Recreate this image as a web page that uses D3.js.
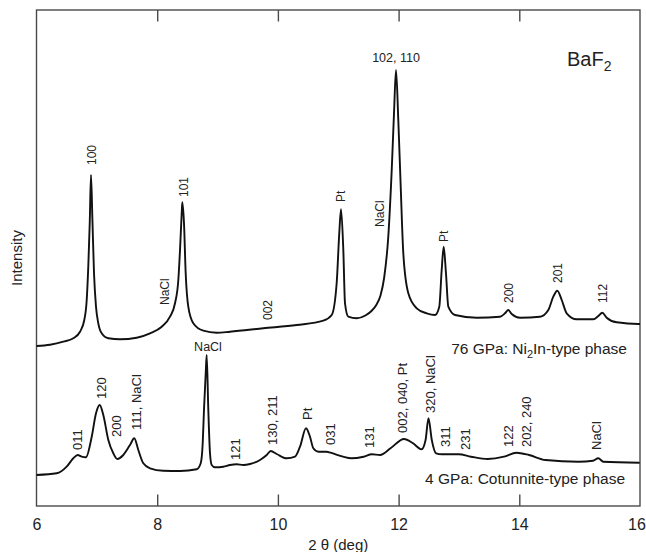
<!DOCTYPE html>
<html>
<head>
<meta charset="utf-8">
<script src="https://cdn.jsdelivr.net/npm/d3@7"></script>
<style>
  html, body { margin: 0; padding: 0; background: #fff; }
  svg { display: block; font-family: "Liberation Sans", Arial, Helvetica, sans-serif; }
</style>
</head>
<body>
<svg id="chart" width="646" height="552"></svg>
<script>
// ---- data (2θ in degrees, intensity in arbitrary units, offset-stacked) ----
const xTicks = [6, 8, 10, 12, 14, 16];

// 76 GPa: Ni2In-type phase
const trace76 = [
  [6.00,160],[6.224,161.3],[6.444,164.3],[6.610,167.7],[6.721,174.3],[6.792,186],[6.832,206],
  [6.858,239.3],[6.882,282.7],[6.903,331],[6.925,289.3],[6.953,232.7],[6.986,199.3],[7.024,182.7],
  [7.080,172.7],[7.190,167.7],[7.384,166.7],[7.660,168.3],[7.881,172.7],[8.075,179.3],[8.212,189.3],
  [8.295,202.7],[8.350,226],[8.378,256],[8.406,292.7],[8.416,303.7],[8.444,282.7],[8.472,232.7],
  [8.515,199.3],[8.598,182.7],[8.764,175.3],[8.986,173.3],[9.206,174.3],[9.758,177.7],[10.312,181],
  [10.752,185.3],[10.892,191],[10.974,223],[11.017,273],[11.046,296.7],[11.084,256],[11.112,202.7],
  [11.167,189.3],[11.306,187.7],[11.45,190.5],[11.55,195],[11.63,201],[11.70,210.5],[11.76,228],
  [11.829,269.3],[11.886,336],[11.924,393],[11.957,436],[11.995,386],[12.035,319.3],[12.078,252.7],
  [12.161,212.7],[12.300,197.7],[12.466,192.7],[12.603,191],[12.674,199.3],[12.714,236],
  [12.747,259.3],[12.785,232.7],[12.824,199.3],[12.935,191],[13.294,188.3],[13.680,189.3],
  [13.763,192.7],[13.818,196],[13.874,192],[14.012,188.3],[14.343,189.3],[14.481,196],[14.563,209.3],
  [14.630,215.3],[14.703,206],[14.785,192.7],[14.951,186.7],[15.226,186.7],[15.309,190],[15.375,193.3],
  [15.448,188.3],[15.614,183.7],[15.972,182],[16.0,182]
];

// 4 GPa: Cotunnite-type phase
const trace4 = [
  [6.00,31],[6.335,32.7],[6.500,39.3],[6.610,47.7],[6.683,51],[6.749,49.3],[6.820,48.7],[6.915,69.3],
  [6.986,92.7],[7.047,101],[7.107,91],[7.190,66],[7.273,52.7],[7.339,47],[7.438,51],[7.549,61],
  [7.621,67.7],[7.687,56],[7.770,42.7],[7.881,37.7],[8.101,35.3],[8.378,35],[8.655,36.7],[8.721,42.7],
  [8.754,62.7],[8.775,96],[8.804,132.7],[8.820,151],[8.847,96],[8.875,52.7],[8.903,41],[8.958,38.7],
  [9.095,39.3],[9.206,41],[9.317,41.7],[9.427,41],[9.538,42],[9.703,46],[9.814,51],[9.881,55],
  [9.980,52],[10.146,47.7],[10.283,49.3],[10.366,59.3],[10.466,77.7],[10.532,69.3],[10.587,57.7],
  [10.670,54.3],[10.809,54.3],[10.873,53.3],[11.079,49.3],[11.215,47.7],[11.420,49.3],[11.558,51.7],
  [11.692,51],[11.866,57.7],[12.089,67],[12.239,62.7],[12.380,56.7],[12.447,66],[12.495,87.7],
  [12.550,66],[12.620,52.7],[12.719,51.7],[12.996,51.7],[13.200,49.3],[13.475,47],[13.747,49.3],
  [13.954,53.3],[14.161,51],[14.434,46],[14.981,44.3],[15.221,45.3],[15.309,47.7],[15.392,44.3],
  [15.995,43.3]
];

// peak labels: [text, 2θ, intensity at label foot]
const labels76 = [
  ["100", 6.914, 341], ["NaCl", 8.129, 201], ["101", 8.432, 309], ["002", 9.836, 186],
  ["Pt", 11.046, 304], ["NaCl", 11.692, 279], ["Pt", 12.741, 264], ["200", 13.829, 203],
  ["201", 14.641, 223], ["112", 15.387, 203]
];
const labels4 = [
  ["011", 6.683, 56], ["120", 7.069, 107], ["200", 7.317, 69], ["111, NaCl", 7.649, 76],
  ["121", 9.301, 46], ["130, 211", 9.914, 61], ["Pt", 10.487, 86], ["031", 10.873, 61],
  ["131", 11.510, 58], ["002, 040, Pt", 12.068, 73], ["320, NaCl", 12.520, 93], ["311", 12.769, 59],
  ["231", 13.100, 56], ["122", 13.818, 59], ["202, 240", 14.123, 59], ["NaCl", 15.283, 56]
];
const flatLabels = [
  ["102, 110", 11.957, 444, 12.5], ["NaCl", 8.842, 155, 12.5]
];

// ---- layout ----
const svg = d3.select("#chart");
const L = 36.5, R = 640, T = 10, B = 506;
const x = d3.scaleLinear().domain([6, 16]).range([L, R]);
const y = d3.scaleLinear().domain([0, 496]).range([B, T]);

const frameColor = "#4a4a4a";

// frame
svg.append("rect")
  .attr("x", L).attr("y", T).attr("width", R - L).attr("height", B - T)
  .attr("fill", "none").attr("stroke", frameColor).attr("stroke-width", 1.4);

// bottom axis (ticks inward)
const bottomAxis = d3.axisBottom(x).tickValues(xTicks).tickSizeInner(-11.5).tickSizeOuter(0)
  .tickPadding(13).tickFormat(d3.format("d"));
const gB = svg.append("g").attr("transform", `translate(0,${B})`).call(bottomAxis);
gB.select(".domain").remove();
gB.selectAll(".tick line").attr("stroke", frameColor).attr("stroke-width", 1.4)
  .filter(d => d === 6 || d === 16).remove();
gB.selectAll(".tick text").attr("font-size", 16).attr("fill", "#222")
  .attr("font-family", "Liberation Sans, Arial, sans-serif")
  .filter(d => d === 16).attr("dx", -3.5);

// top axis (ticks inward, no labels)
const topAxis = d3.axisTop(x).tickValues(xTicks.filter(d => d !== 6 && d !== 16))
  .tickSizeInner(-11.5).tickSizeOuter(0).tickFormat("");
const gT = svg.append("g").attr("transform", `translate(0,${T})`).call(topAxis);
gT.select(".domain").remove();
gT.selectAll(".tick line").attr("stroke", frameColor).attr("stroke-width", 1.4);

// axis titles
svg.append("text").attr("x", (L + R) / 2).attr("y", 550).attr("text-anchor", "middle")
  .attr("font-size", 15).attr("fill", "#222").text("2 θ (deg)");
svg.append("text").attr("transform", `translate(22,${(T + B) / 2}) rotate(-90)`)
  .attr("text-anchor", "middle").attr("font-size", 15).attr("fill", "#222").text("Intensity");

// traces
const line = d3.line().x(d => x(d[0])).y(d => y(d[1])).curve(d3.curveMonotoneX);
[trace76, trace4].forEach(tr => {
  svg.append("path").datum(tr).attr("d", line)
    .attr("fill", "none").attr("stroke", "#111").attr("stroke-width", 1.9)
    .attr("stroke-linejoin", "round");
});

// rotated peak labels
function rotLabels(arr, size) {
  svg.append("g").selectAll("text").data(arr).join("text")
    .attr("transform", d => `translate(${x(d[1])},${y(d[2])}) rotate(-90)`)
    .attr("dy", "0.36em").attr("text-anchor", "start")
    .attr("font-size", size).attr("fill", "#222").text(d => d[0]);
}
rotLabels(labels76, 12);
rotLabels(labels4, 13);

svg.append("g").selectAll("text").data(flatLabels).join("text")
  .attr("x", d => x(d[1])).attr("y", d => y(d[2])).attr("text-anchor", "middle")
  .attr("font-size", d => d[3]).attr("fill", "#222").text(d => d[0]);

// phase titles
const t76 = svg.append("text").attr("x", 627).attr("y", 354).attr("text-anchor", "end")
  .attr("font-size", 15.5).attr("fill", "#222");
t76.append("tspan").text("76 GPa: Ni");
t76.append("tspan").attr("font-size", 11).attr("dy", 4).text("2");
t76.append("tspan").attr("dy", -4).text("In-type phase");

svg.append("text").attr("x", 625).attr("y", 484).attr("text-anchor", "end")
  .attr("font-size", 15.5).attr("fill", "#222").text("4 GPa: Cotunnite-type phase");

const tb = svg.append("text").attr("x", 567).attr("y", 66).attr("font-size", 20).attr("fill", "#222");
tb.append("tspan").text("BaF");
tb.append("tspan").attr("font-size", 14).attr("dy", 5).text("2");
</script>
</body>
</html>
